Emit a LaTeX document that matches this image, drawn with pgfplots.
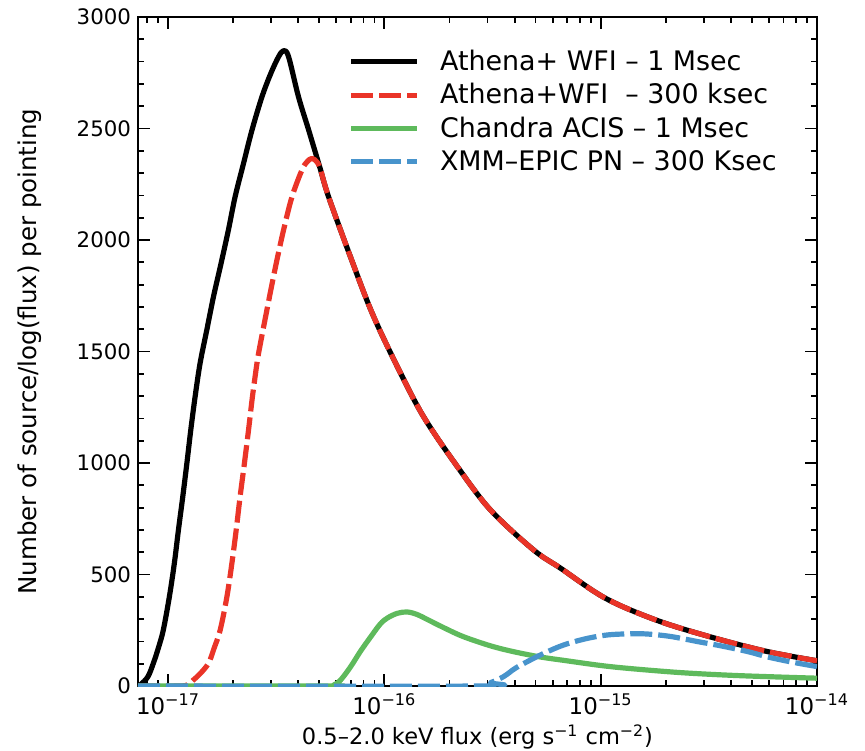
\documentclass[border=0pt]{standalone}
\usepackage{pgfplots}
\pgfplotsset{compat=1.18}
\usepackage{fontspec}
\setmainfont{DejaVu Sans}
\definecolor{cred}{RGB}{234,52,40}
\definecolor{cgreen}{RGB}{94,186,92}
\definecolor{cblue}{RGB}{72,148,204}
\begin{document}
\begin{tikzpicture}
\begin{axis}[
  width=339.5bp, height=334.5bp, scale only axis,
  xmin=-17.139, xmax=-14, ymin=0, ymax=3000,
  xtick={-17,-16,-15,-14},
  xticklabels={10\textsuperscript{−17},10\textsuperscript{−16},10\textsuperscript{−15},10\textsuperscript{−14}},
  minor xtick={-17.0969,-17.0458,
    -16.6990,-16.5229,-16.3979,-16.3010,-16.2218,-16.1549,-16.0969,-16.0458,
    -15.6990,-15.5229,-15.3979,-15.3010,-15.2218,-15.1549,-15.0969,-15.0458,
    -14.6990,-14.5229,-14.3979,-14.3010,-14.2218,-14.1549,-14.0969,-14.0458},
  ytick={0,500,1000,1500,2000,2500,3000},
  yticklabels={0,500,1000,1500,2000,2500,3000},
  minor y tick num=4,
  tick align=inside,
  major tick length=6bp, minor tick length=3bp,
  every tick/.style={black, line width=0.9bp},
  axis line style={line width=1.4bp},
  yticklabel style={font=\fontsize{10.7}{12}\selectfont},
  xticklabel style={font=\fontsize{11.5}{13}\selectfont, yshift=-0.5bp},
  xlabel={0.5–2.0 keV flux (erg s\textsuperscript{−1} cm\textsuperscript{−2})},
  ylabel={Number of source/log(flux) per pointing},
  every axis x label/.style={at={(axis description cs:0.5,-0.088)}, anchor=base, font=\fontsize{11.3}{13}\selectfont},
  every axis y label/.style={at={(axis description cs:-0.159,0.5)}, rotate=90, anchor=center, font=\fontsize{12.3}{14}\selectfont},
  legend style={draw=none, fill=none, at={(0.31,0.957)}, anchor=north west,
    font=\fontsize{13.5}{16}\selectfont, row sep=1bp, inner sep=0pt},
  legend cell align=left,
  legend image code/.code={\draw[#1] (0bp,0bp) -- (33bp,0bp); \path (41bp,0bp);},
  every axis plot/.append style={line width=2.6bp, line join=round, smooth, tension=0.55},
]
\addplot[black] coordinates {
(-17.139,0) (-17.125,8) (-17.093,42) (-17.068,102) (-17.045,170) (-17.022,251)
(-16.994,400) (-16.971,550) (-16.952,700) (-16.932,849) (-16.913,999)
(-16.895,1148) (-16.875,1297) (-16.852,1447) (-16.821,1596) (-16.790,1746)
(-16.755,1895) (-16.721,2045) (-16.690,2194) (-16.651,2344) (-16.612,2493)
(-16.566,2642) (-16.525,2747) (-16.489,2822) (-16.466,2849) (-16.443,2822)
(-16.397,2642) (-16.350,2493) (-16.304,2344) (-16.296,2318) (-16.258,2194)
(-16.157,1925) (-16.056,1671) (-15.940,1432) (-15.819,1208) (-15.662,983)
(-15.509,789) (-15.310,610) (-15.185,528) (-14.977,393) (-14.736,293)
(-14.481,217) (-14.227,154) (-14.000,113)};
\addlegendentry{Athena+ WFI – 1 Msec}
\addplot[cred, dash pattern=on 11bp off 3bp] coordinates {
(-17.139,0) (-16.944,0) (-16.907,8) (-16.883,27) (-16.852,55) (-16.813,102)
(-16.787,170) (-16.759,251) (-16.728,400) (-16.705,550) (-16.685,700)
(-16.667,849) (-16.647,999) (-16.628,1148) (-16.610,1297) (-16.589,1447)
(-16.576,1521) (-16.531,1746) (-16.500,1895) (-16.466,2045) (-16.427,2194)
(-16.381,2314) (-16.358,2350) (-16.335,2366) (-16.312,2350) (-16.296,2318)
(-16.258,2194) (-16.157,1925) (-16.056,1671) (-15.940,1432) (-15.819,1208)
(-15.662,983) (-15.509,789) (-15.310,610) (-15.185,528) (-14.977,393)
(-14.736,293) (-14.481,217) (-14.227,154) (-14.000,113)};
\addlegendentry{Athena+WFI\ \ – 300 ksec}
\addplot[cgreen] coordinates {
(-17.139,0) (-16.250,0) (-16.236,3) (-16.204,25) (-16.157,85) (-16.111,155)
(-16.065,218) (-16.019,278) (-15.986,305) (-15.940,326) (-15.894,332)
(-15.847,320) (-15.801,298) (-15.718,258) (-15.634,221) (-15.509,180)
(-15.403,154) (-15.278,130) (-15.171,115) (-15.000,92) (-14.861,78)
(-14.630,60) (-14.398,48) (-14.167,40) (-14.000,35)};
\addlegendentry{Chandra ACIS – 1 Msec}
\addplot[cblue, dash pattern=on 11bp off 3bp] coordinates {
(-17.139,0) (-15.565,0) (-15.509,15) (-15.449,42) (-15.394,80) (-15.324,117)
(-15.255,150) (-15.171,184) (-15.069,212) (-14.968,229) (-14.861,234)
(-14.782,233) (-14.676,222) (-14.551,199) (-14.444,180) (-14.319,154)
(-14.227,130) (-14.120,108) (-14.000,87)};
\addlegendentry{XMM–EPIC PN – 300 Ksec}
\end{axis}
\pgfresetboundingbox
\path ([shift={(-69bp,-32.5bp)}]current axis.south west) rectangle ([shift={(24bp,8.5bp)}]current axis.north east);
\end{tikzpicture}
\end{document}
